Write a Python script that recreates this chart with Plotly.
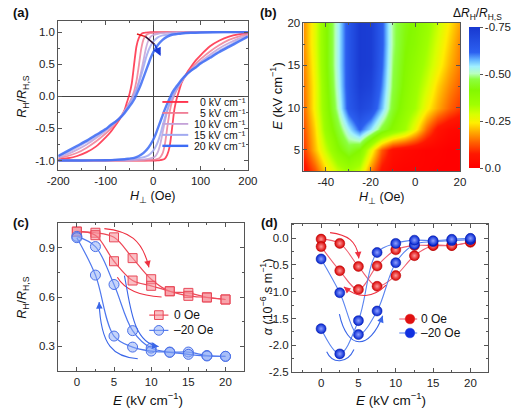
import plotly.graph_objects as go

W, HH = 522, 416
def px(x): return x / W
def py(y): return 1 - y / HH

FONT = "Arial, 'Liberation Sans', Helvetica, sans-serif"
TICKFONT = dict(family=FONT, size=11.5, color="#222")
AX = "#555"

# ---------------- (a) hysteresis loops (descending branch; ascending is its point mirror) ----
H_desc = [200, 150, 100, 80, 60, 50, 40, 30, 20, 10, 0, -5, -10, -15, -20, -25, -30, -35,
          -40, -45, -50, -55, -60, -70, -80, -90, -100, -120, -140, -160, -180, -200]
E_labels_a = ["0", "5", "10", "15", "20"]
R_desc = {
    "0":  [1.0, 1.0, 1.0, 1.0, 1.0, 1.0, 1.0, 1.0, 1.0, 1.0, 1.0, 1.0, 0.997, 0.993, 0.988,
           0.97, 0.91, 0.78, 0.50, 0.20, 0.03, -0.09, -0.21, -0.35, -0.46, -0.56, -0.64,
           -0.78, -0.87, -0.93, -0.965, -0.985],
    "5":  [1.0, 1.0, 1.0, 1.0, 1.0, 1.0, 1.0, 1.0, 1.0, 0.995, 0.99, 0.985, 0.975, 0.95, 0.89,
           0.74, 0.48, 0.24, 0.08, -0.02, -0.10, -0.16, -0.22, -0.34, -0.43, -0.51, -0.58,
           -0.70, -0.80, -0.88, -0.93, -0.965],
    "10": [1.0, 1.0, 1.0, 1.0, 1.0, 1.0, 0.995, 0.99, 0.985, 0.975, 0.955, 0.93, 0.87, 0.75,
           0.57, 0.39, 0.23, 0.11, 0.02, -0.06, -0.12, -0.18, -0.23, -0.33, -0.41, -0.48,
           -0.54, -0.65, -0.75, -0.83, -0.90, -0.95],
    "15": [1.0, 1.0, 0.995, 0.99, 0.985, 0.98, 0.975, 0.96, 0.95, 0.92, 0.85, 0.79, 0.71, 0.60,
           0.46, 0.33, 0.21, 0.11, 0.03, -0.05, -0.12, -0.18, -0.24, -0.33, -0.40, -0.46,
           -0.52, -0.62, -0.71, -0.79, -0.87, -0.935],
    "20": [1.0, 1.0, 0.995, 0.99, 0.98, 0.97, 0.96, 0.93, 0.88, 0.80, 0.68, 0.60, 0.50, 0.40,
           0.30, 0.20, 0.11, 0.03, -0.05, -0.11, -0.16, -0.21, -0.26, -0.34, -0.40, -0.45,
           -0.51, -0.60, -0.69, -0.77, -0.85, -0.93],
}
colors_a = {"0": "#ff2a45", "5": "#f07e96", "10": "#c4a2d8", "15": "#a2aaf0", "20": "#3d6cf5"}
widths_a = {"0": 1.8, "5": 1.8, "10": 1.8, "15": 2.0, "20": 2.4}

# ---------------- (b) map of ΔR_H/R_H,S ----------------
H_b = [-50, -45, -40, -35, -30, -25, -20, -15, -10, -5, 0, 5, 10, 15, 20]
E_b = [2.5, 5, 7.5, 10, 12.5, 15, 17.5, 20]
dR_b = [
    [-0.05, -0.12, -0.22, -0.30, -0.34, -0.30, -0.16, -0.06, -0.02, -0.01, -0.01, -0.01, 0.0, 0.0, 0.0],
    [-0.10, -0.20, -0.30, -0.40, -0.45, -0.41, -0.27, -0.13, -0.05, -0.03, -0.02, -0.01, -0.01, 0.0, 0.0],
    [-0.12, -0.22, -0.36, -0.45, -0.54, -0.62, -0.55, -0.46, -0.40, -0.34, -0.25, -0.14, -0.06, -0.03, -0.02],
    [-0.14, -0.25, -0.38, -0.50, -0.64, -0.70, -0.67, -0.57, -0.45, -0.38, -0.33, -0.25, -0.19, -0.14, -0.10],
    [-0.15, -0.25, -0.39, -0.52, -0.65, -0.73, -0.71, -0.60, -0.47, -0.40, -0.35, -0.29, -0.22, -0.17, -0.13],
    [-0.16, -0.26, -0.40, -0.53, -0.65, -0.74, -0.73, -0.62, -0.48, -0.41, -0.37, -0.32, -0.26, -0.20, -0.15],
    [-0.17, -0.27, -0.40, -0.53, -0.65, -0.74, -0.73, -0.63, -0.49, -0.42, -0.39, -0.34, -0.28, -0.22, -0.16],
    [-0.17, -0.27, -0.40, -0.53, -0.65, -0.74, -0.73, -0.63, -0.49, -0.43, -0.40, -0.36, -0.30, -0.24, -0.18],
]
cbar_vals = [0.0, -0.25, -0.50, -0.75]
cbar_text = ["0.0", "-0.25", "-0.50", "-0.75"]

# ---------------- (c) R_H/R_H,S vs E ----------------
E_pts = [0, 2.5, 5, 7.5, 10, 12.5, 15, 17.5, 20]
R0_up = [0.995, 0.99, 0.962, 0.836, 0.708, 0.635, 0.625, 0.598, 0.585]
R0_down = [0.998, 0.975, 0.817, 0.700, 0.668, 0.635, 0.607, 0.597, 0.585]
R20_up = [0.968, 0.906, 0.676, 0.396, 0.290, 0.266, 0.266, 0.245, 0.240]
R20_down = [0.960, 0.733, 0.363, 0.296, 0.272, 0.264, 0.252, 0.242, 0.240]

# ---------------- (d) alpha vs E ----------------
A0_up = [-0.02, -0.10, -0.53, -0.90, -0.70, -0.33, -0.14, -0.14, -0.08]
A0_down = [-0.16, -0.61, -0.96, -0.52, -0.22, -0.14, -0.14, -0.14, -0.07]
A20_up = [-0.39, -1.02, -1.80, -1.36, -0.46, -0.12, -0.067, -0.048, -0.03]
A20_down = [-1.69, -2.16, -1.54, -0.27, -0.10, -0.04, -0.05, -0.024, -0.006]

# tick labels
xa_vals, xa_text = [-200, -100, 0, 100, 200], ["-200", "-100", "0", "100", "200"]
ya_vals, ya_text = [-1.0, -0.5, 0.0, 0.5, 1.0], ["-1.0", "-0.5", "0.0", "0.5", "1.0"]
xb_vals, xb_text = [-40, -20, 0, 20], ["-40", "-20", "0", "20"]
yb_vals, yb_text = [5, 10, 15, 20], ["5", "10", "15", "20"]
xc_vals, xc_text = [0, 5, 10, 15, 20], ["0", "5", "10", "15", "20"]
yc_vals, yc_text = [0.3, 0.6, 0.9], ["0.3", "0.6", "0.9"]
yd_vals, yd_text = [0.0, -0.5, -1.0, -1.5, -2.0, -2.5], ["0.0", "-0.5", "-1.0", "-1.5", "-2.0", "-2.5"]

fig = go.Figure()

# (a)
for k in E_labels_a:
    Rd = R_desc[k]
    H_asc = [-h for h in H_desc]
    R_asc = [-r for r in Rd]
    for hx, ry in ((H_desc, Rd), (H_asc, R_asc)):
        fig.add_trace(go.Scatter(x=hx, y=ry, mode="lines", xaxis="x", yaxis="y",
                                 line=dict(color=colors_a[k], width=widths_a[k], shape="spline", smoothing=0.7),
                                 opacity=0.85, showlegend=False, hoverinfo="skip"))

# (b)
mag = [[-v for v in row] for row in dR_b]
cscale = [[0.0, "#ff0000"], [0.10, "#ff1800"], [0.18, "#ff6000"], [0.26, "#ffb000"],
          [0.32, "#ffee00"], [0.38, "#d8ff00"], [0.45, "#a0ff00"], [0.55, "#84f800"],
          [0.63, "#8cff40"], [0.67, "#b8ffc0"], [0.72, "#a0f0ff"], [0.77, "#60b0ff"],
          [0.82, "#2c60f0"], [1.0, "#1838d0"]]
fig.add_trace(go.Heatmap(x=H_b, y=E_b, z=mag, zsmooth="best", xaxis="x2", yaxis="y2",
                         colorscale=cscale, zmin=0, zmax=0.75, hoverinfo="skip",
                         colorbar=dict(x=px(476.7), xanchor="left", y=py(94.5), yanchor="middle",
                                       len=141, lenmode="pixels", thickness=10.6, thicknessmode="pixels",
                                       outlinewidth=0, xpad=0, ypad=0, ticks="outside", ticklen=3,
                                       tickcolor=AX, tickfont=TICKFONT,
                                       tickvals=[-v for v in cbar_vals], ticktext=cbar_text)))

# (c)
red_c, blue_c = "#ee4858", "#4f78ee"
for ys in (R0_up, R0_down):
    fig.add_trace(go.Scatter(x=E_pts, y=ys, mode="lines+markers", xaxis="x3", yaxis="y3",
                             line=dict(color=red_c, width=1.2, shape="spline"),
                             marker=dict(symbol="square", size=9, color="rgba(245,140,150,0.55)",
                                         line=dict(color="#e84858", width=1)),
                             showlegend=False, hoverinfo="skip"))
for ys in (R20_up, R20_down):
    fig.add_trace(go.Scatter(x=E_pts, y=ys, mode="lines+markers", xaxis="x3", yaxis="y3",
                             line=dict(color=blue_c, width=1.2, shape="spline"),
                             marker=dict(symbol="circle", size=10, color="rgba(140,170,245,0.5)",
                                         line=dict(color="#4a70e8", width=1)),
                             showlegend=False, hoverinfo="skip"))

# (d)
for ys in (A0_up, A0_down):
    fig.add_trace(go.Scatter(x=E_pts, y=ys, mode="lines+markers", xaxis="x4", yaxis="y4",
                             line=dict(color="#f06070", width=1.1, shape="spline"),
                             marker=dict(size=10, color="#d80000", gradient=dict(type="radial", color="#ff9a9a"),
                                         line=dict(color="#b00000", width=0.5)),
                             showlegend=False, hoverinfo="skip"))
for ys in (A20_up, A20_down):
    fig.add_trace(go.Scatter(x=E_pts, y=ys, mode="lines+markers", xaxis="x4", yaxis="y4",
                             line=dict(color="#5a84f0", width=1.1, shape="spline"),
                             marker=dict(size=10, color="#0024d0", gradient=dict(type="radial", color="#90a0ff"),
                                         line=dict(color="#0010a0", width=0.5)),
                             showlegend=False, hoverinfo="skip"))


def axis(dom, anchor, rng, vals, text, minor_dtick, minor0=0):
    return dict(domain=dom, anchor=anchor, range=rng, tickmode="array", tickvals=vals, ticktext=text,
                ticks="inside", ticklen=4, tickwidth=1, tickcolor=AX, showline=True, linecolor=AX,
                linewidth=1, mirror="allticks", showgrid=False, zeroline=False, tickfont=TICKFONT,
                ticklabelstandoff=0,
                minor=dict(ticks="inside", ticklen=2, tickcolor=AX, tick0=minor0, dtick=minor_dtick,
                           showgrid=False))


layout = dict(
    width=W, height=HH, margin=dict(l=0, r=0, t=0, b=0), plot_bgcolor="white", paper_bgcolor="white",
    font=dict(family=FONT, color="#222"), showlegend=False,
    xaxis=axis([px(48.3), px(246.3)], "y", [-200, 200], xa_vals, xa_text, 50),
    yaxis=axis([py(169), py(15.7)], "x", [-1.15, 1.17], ya_vals, ya_text, 0.25),
    xaxis2=axis([px(304.3), px(467.7)], "y2", [-50, 20], xb_vals, xb_text, 10),
    yaxis2=axis([py(170), py(17.5)], "x2", [2.5, 20], yb_vals, yb_text, 2.5),
    xaxis3=axis([px(48.3), px(242.3)], "y3", [-2.5, 22.5], xc_vals, xc_text, 2.5),
    yaxis3=axis([py(376), py(223.3)], "x3", [0.15, 1.05], yc_vals, yc_text, 0.15),
    xaxis4=axis([px(292.3), px(497.3)], "y4", [-3.9, 22.4], xc_vals, xc_text, 2.5),
    yaxis4=axis([py(377), py(224)], "x4", [-2.5, 0.27], yd_vals, yd_text, 0.25),
)
layout["xaxis"].update(zeroline=True, zerolinecolor="#444", zerolinewidth=1)
layout["yaxis"].update(zeroline=True, zerolinecolor="#444", zerolinewidth=1)
fig.update_layout(**layout)

ann = []
shapes = []


def text(x, y, s, size=12.5, bold=False, angle=0, xanchor="center", yanchor="middle"):
    ann.append(dict(x=px(x), y=py(y), xref="paper", yref="paper", text=("<b>%s</b>" % s) if bold else s,
                    showarrow=False, textangle=angle, xanchor=xanchor, yanchor=yanchor, borderpad=0,
                    font=dict(family=FONT, size=size, color="#111")))


# panel labels
text(0, 7, "(a)", 13, True, xanchor="left")
text(258, 7, "(b)", 13, True, xanchor="left")
text(0, 223, "(c)", 13, True, xanchor="left")
text(259, 223, "(d)", 13, True, xanchor="left")

# axis titles
HT = "<i>H</i><sub>⊥</sub> (Oe)"
RT = "<i>R</i><sub>H</sub>/<i>R</i><sub>H,S</sub>"
ET = "<i>E</i> (kV cm<sup>−1</sup>)"
text(147, 197, HT)
text(386, 198, HT)
text(12, 93, RT, angle=-90)
text(12, 300, RT, angle=-90)
text(276, 93, ET, 13, angle=-90)
text(142, 405, ET, 13.5)
text(396, 405, ET, 13.5)
text(266, 300, "<i>α</i> (10<sup>−6</sup> s m<sup>−1</sup>)", angle=-90)
text(486, 8, "Δ<i>R</i><sub>H</sub>/<i>R</i><sub>H,S</sub>", 12)

# legend (a)
rows_a = [98.8, 110.1, 121.4, 132.7, 144.0]
for k, yy in zip(E_labels_a, rows_a):
    shapes.append(dict(type="line", xref="paper", yref="paper", x0=px(157), x1=px(184), y0=py(yy), y1=py(yy),
                       line=dict(color=colors_a[k], width=widths_a[k])))
    text(245, yy, "%s kV cm⁻¹" % k, 10.5, xanchor="right")

# legend (c)
for (yy, lab, col, sym, fill, edge) in ((318.3, "0 Oe", red_c, "rect", "rgba(245,140,150,0.55)", "#e84858"),
                                        (334.0, "–20 Oe", blue_c, "circle", "rgba(140,170,245,0.5)", "#4a70e8")):
    shapes.append(dict(type="line", xref="paper", yref="paper", x0=px(143.3), x1=px(163.3), y0=py(yy), y1=py(yy),
                       line=dict(color=col, width=1.2)))
    r = 4.5 if sym == "rect" else 5
    shapes.append(dict(type=sym, xref="paper", yref="paper", x0=px(153.3 - r), x1=px(153.3 + r),
                       y0=py(yy - r), y1=py(yy + r), fillcolor=fill, line=dict(color=edge, width=1)))
    text(168.3, yy, lab, 12, xanchor="left")

# legend (d)
for (yy, lab, col, fill) in ((322.3, "0 Oe", "#f06070", "#e01010"), (336.7, "–20 Oe", "#5a84f0", "#1030e0")):
    shapes.append(dict(type="line", xref="paper", yref="paper", x0=px(404.3), x1=px(423), y0=py(yy), y1=py(yy),
                       line=dict(color=col, width=1.1)))
    shapes.append(dict(type="circle", xref="paper", yref="paper", x0=px(410.5), x1=px(420.5),
                       y0=py(yy - 5), y1=py(yy + 5), fillcolor=fill, line=dict(color=fill, width=0.5)))
    text(426, yy, lab, 12, xanchor="left")


# curved arrows (decorations)
def carrow(xr, yr, p0, p1, p2, p3, color, width=1.1):
    shapes.append(dict(type="path", xref=xr, yref=yr, line=dict(color=color, width=width),
                       path="M %g %g C %g %g, %g %g, %g %g" % (p0 + p1 + p2 + p3)))
    ax_ = p3[0] - 0.2 * (p3[0] - p2[0])
    ay_ = p3[1] - 0.2 * (p3[1] - p2[1])
    ann.append(dict(x=p3[0], y=p3[1], ax=ax_, ay=ay_, xref=xr, yref=yr, axref=xr, ayref=yr, text="",
                    showarrow=True, arrowhead=2, arrowsize=1.2, arrowwidth=width, arrowcolor=color, standoff=0))


carrow("x3", "y3", (3.7, 1.015), (7.0, 1.0), (8.8, 0.95), (9.7, 0.78), "#ee3040")
carrow("x3", "y3", (11.4, 0.60), (8.5, 0.61), (6.5, 0.64), (5.45, 0.72), "#ee3040")
carrow("x3", "y3", (6.4, 0.73), (7.2, 0.55), (7.5, 0.32), (11.0, 0.30), "#3a66e8")
carrow("x3", "y3", (8.2, 0.225), (5.0, 0.235), (3.2, 0.30), (3.0, 0.57), "#3a66e8")

carrow("x4", "y4", (1.2, 0.10), (3.5, 0.06), (4.8, -0.05), (5.05, -0.38), "#ee3040")
carrow("x4", "y4", (8.7, -0.88), (7.0, -1.12), (5.0, -1.14), (3.05, -0.91), "#ee3040")
carrow("x4", "y4", (2.45, -1.42), (3.5, -2.1), (6.5, -2.1), (8.25, -1.45), "#3a66e8")
carrow("x4", "y4", (4.4, -2.08), (3.5, -2.35), (1.5, -2.35), (0.75, -2.12), "#3a66e8")

# (a) gradient arrow
shapes.append(dict(type="line", xref="x", yref="y", x0=-34, y0=0.97, x1=-16, y1=0.93, line=dict(color="#e01818", width=1.5)))
shapes.append(dict(type="line", xref="x", yref="y", x0=-16, y0=0.93, x1=3, y1=0.81, line=dict(color="#301030", width=1.5)))
shapes.append(dict(type="line", xref="x", yref="y", x0=3, y0=0.81, x1=14, y1=0.66, line=dict(color="#1a3ad8", width=1.5)))
ann.append(dict(x=16, y=0.63, ax=12, ay=0.69, xref="x", yref="y", axref="x", ayref="y", text="", showarrow=True,
                arrowhead=2, arrowsize=1.1, arrowwidth=1.5, arrowcolor="#1a3ad8", standoff=0))

fig.update_layout(annotations=ann, shapes=shapes)
fig.write_html("out.html", config={"displayModeBar": False},
               post_script="document.body.style.margin='0';document.body.style.overflow='hidden';")
